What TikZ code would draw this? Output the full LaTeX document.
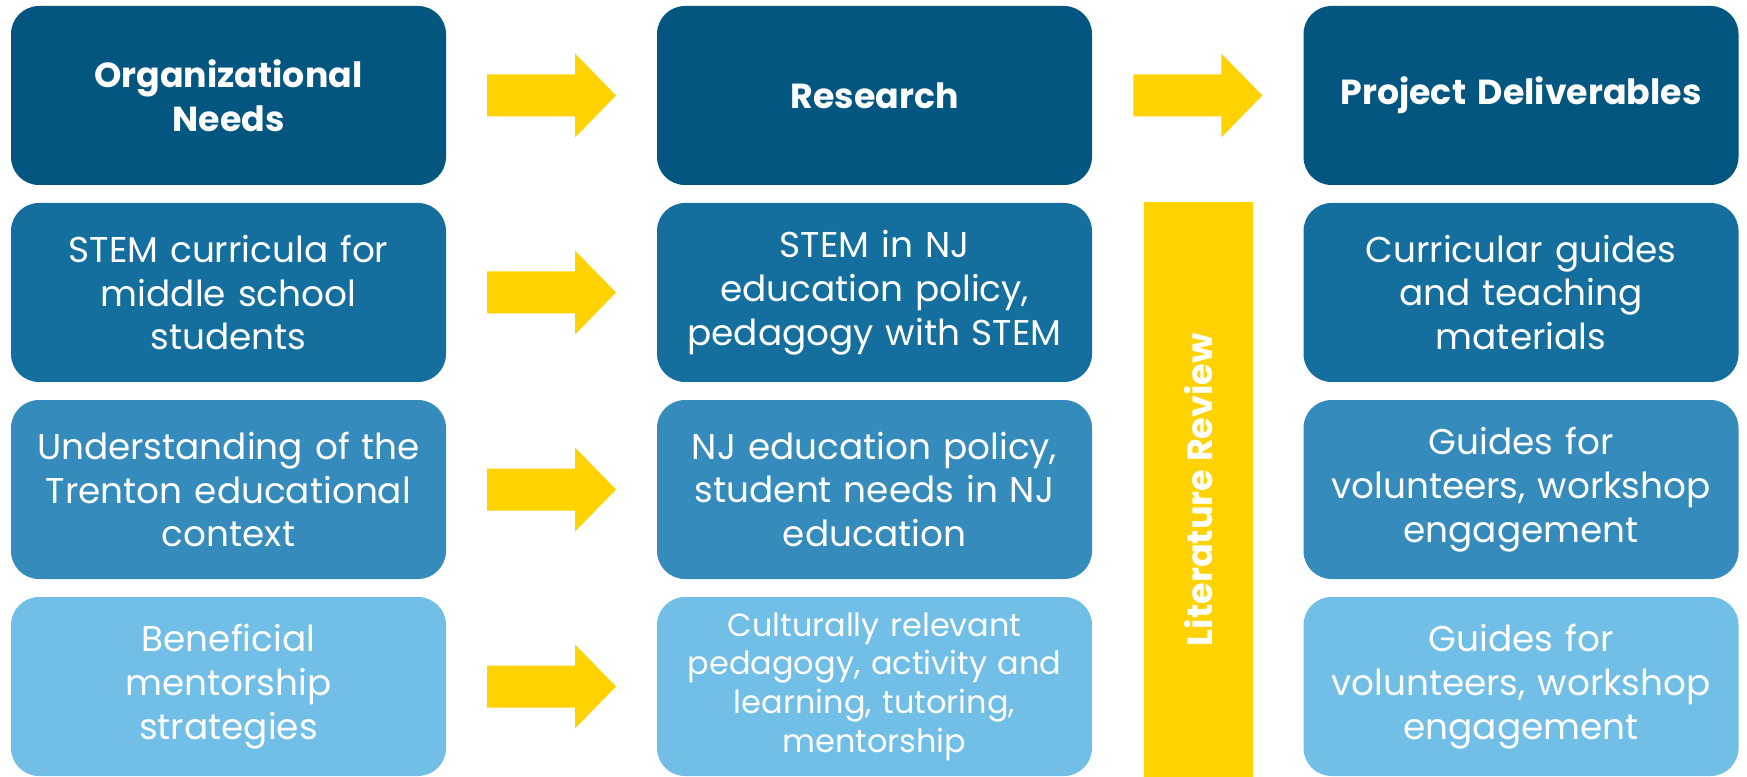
\documentclass[tikz,border=0pt]{standalone}
\usepackage{fontspec}
\setmainfont{Poppins}
\usetikzlibrary{calc}

\definecolor{tierone}{HTML}{03567F}
\definecolor{tiertwo}{HTML}{156F9E}
\definecolor{tierthree}{HTML}{358BBB}
\definecolor{tierfour}{HTML}{71BEE6}
\definecolor{gold}{HTML}{FFD200}

\tikzset{
  stage/.style={rounded corners=0.28cm, minimum width=4.35cm, minimum height=1.79cm,
    text width=4.2cm, align=center, inner sep=0pt, text=white,
    font=\fontsize{10.2}{12.5}\selectfont},
  headstage/.style={stage, fill=tierone, font=\bfseries\fontsize{9.9}{12.5}\selectfont},
  yarrow/.pic={\fill[gold] (-0.645,0.21) -- (0.235,0.21) -- (0.235,0.42) -- (0.645,0)
    -- (0.235,-0.42) -- (0.235,-0.21) -- (-0.645,-0.21) -- cycle;}
}

\begin{document}
\begin{tikzpicture}
\useasboundingbox (0,0) rectangle (17.47,-7.77);
\node[headstage] (needs) at (2.285,-0.955) {Organizational\\Needs};
\node[headstage] (research) at (8.745,-0.955) {Research};
\node[headstage] (deliv) at (15.21,-0.955) {Project Deliverables};

\node[stage,fill=tiertwo] (needsa) at (2.285,-2.925) {STEM curricula for\\middle school\\students};
\node[stage,fill=tiertwo] (researcha) at (8.745,-2.925) {STEM in NJ\\education policy,\\pedagogy with STEM};
\node[stage,fill=tiertwo] (deliva) at (15.21,-2.925) {Curricular guides\\and teaching\\materials};

\node[stage,fill=tierthree] (needsb) at (2.285,-4.895) {Understanding of the\\Trenton educational\\context};
\node[stage,fill=tierthree] (researchb) at (8.745,-4.895) {NJ education policy,\\student needs in NJ\\education};
\node[stage,fill=tierthree] (delivb) at (15.21,-4.895) {Guides for\\volunteers, workshop\\engagement};

\node[stage,fill=tierfour] (needsc) at (2.285,-6.865) {Beneficial\\mentorship\\strategies};
\node[stage,fill=tierfour,font=\fontsize{9.1}{11}\selectfont] (researchc) at (8.745,-6.865) {Culturally relevant\\pedagogy, activity and\\learning, tutoring,\\mentorship};
\node[stage,fill=tierfour] (delivc) at (15.21,-6.865) {Guides for\\volunteers, workshop\\engagement};

\node[fill=gold, text=white, rotate=90, minimum width=5.75cm, minimum height=1.09cm,
  inner sep=0pt, font=\bfseries\fontsize{10}{12.5}\selectfont] (litreview) at (11.985,-4.895) {Literature Review};

\pic at ($(needs.east)!0.5!(research.west)$) {yarrow};
\pic at ($(research.east)!0.5!(deliv.west)$) {yarrow};
\pic at ($(needsa.east)!0.5!(researcha.west)$) {yarrow};
\pic at ($(needsb.east)!0.5!(researchb.west)$) {yarrow};
\pic at ($(needsc.east)!0.5!(researchc.west)$) {yarrow};
\end{tikzpicture}
\end{document}
